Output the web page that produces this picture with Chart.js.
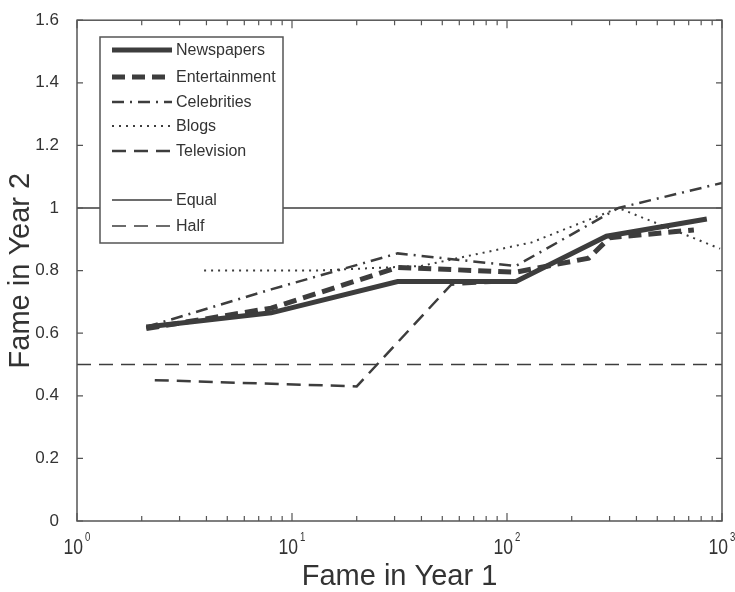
<!DOCTYPE html>
<html>
<head>
<meta charset="utf-8">
<script src="https://cdn.jsdelivr.net/npm/chart.js@4.4.0/dist/chart.umd.min.js"></script>
<style>
  html, body { margin: 0; padding: 0; background: #fff; }
  #wrap { width: 735px; height: 592px; }
</style>
</head>
<body>
<div id="wrap"><canvas id="fame-chart"></canvas></div>
<script>
// values (x = fame in year 1, y = fame in year 2)
const newspapersX = [2.1, 8, 31, 110, 290, 850];
const newspapersY = [0.62, 0.665, 0.765, 0.765, 0.91, 0.965];

const entertainmentX = [2.1, 8, 31, 110, 240, 300, 740];
const entertainmentY = [0.615, 0.68, 0.81, 0.795, 0.84, 0.905, 0.93];

const celebritiesX = [2.1, 8, 31, 110, 330, 1000];
const celebritiesY = [0.62, 0.74, 0.855, 0.815, 1.0, 1.08];

const blogsX = [3.9, 13, 40, 130, 330, 980];
const blogsY = [0.80, 0.80, 0.815, 0.89, 1.0, 0.87];

const televisionX = [2.3, 20, 55, 110, 290, 850];
const televisionY = [0.45, 0.43, 0.755, 0.765, 0.91, 0.963];

const referenceX = [1, 1000];
const equalY = [1, 1];
const halfY = [0.5, 0.5];

const xMajorTicks = [1, 10, 100, 1000];
const xTickExponents = ['0', '1', '2', '3'];
const yTicks = [0, 0.2, 0.4, 0.6, 0.8, 1, 1.2, 1.4, 1.6];

const LINE = '#3d3d3d';
const AXIS = '#555555';
const TEXT = '#333333';
const FONT = '"Liberation Sans", Arial, sans-serif';

function toPoints(xs, ys) {
    return xs.map((x, i) => ({ x: x, y: ys[i] }));
}

function makeSet(label, xs, ys, width, dash) {
    return {
        label: label,
        data: toPoints(xs, ys),
        borderColor: LINE,
        backgroundColor: LINE,
        borderWidth: width,
        borderDash: dash,
        pointRadius: 0,
        tension: 0,
        fill: false
    };
}

const datasets = [
    makeSet('Newspapers', newspapersX, newspapersY, 5, []),
    makeSet('Entertainment', entertainmentX, entertainmentY, 5, [13, 7]),
    makeSet('Celebrities', celebritiesX, celebritiesY, 2.5, [12, 6, 2, 6]),
    makeSet('Blogs', blogsX, blogsY, 2, [2, 5]),
    makeSet('Television', televisionX, televisionY, 2.5, [14, 8]),
    makeSet('Equal', referenceX, equalY, 1.5, []),
    makeSet('Half', referenceX, halfY, 1.5, [14, 8])
];

// frame, inward ticks, superscript x labels and the boxed legend
const matlabLook = {
    id: 'matlabLook',
    afterDatasetsDraw(chart) {
        const ctx = chart.ctx;
        const area = chart.chartArea;
        const xs = chart.scales.x;
        const ys = chart.scales.y;
        ctx.save();

        // legend box
        const box = { left: 100, top: 37, right: 283, bottom: 243 };
        const rows = [50, 77, 102, 126, 151, 200, 226];
        ctx.fillStyle = '#fff';
        ctx.fillRect(box.left, box.top, box.right - box.left, box.bottom - box.top);
        ctx.strokeStyle = AXIS;
        ctx.lineWidth = 1.5;
        ctx.setLineDash([]);
        ctx.strokeRect(box.left, box.top, box.right - box.left, box.bottom - box.top);
        ctx.font = '16px ' + FONT;
        ctx.textBaseline = 'middle';
        ctx.textAlign = 'left';
        chart.data.datasets.forEach((ds, i) => {
            const y = rows[i];
            ctx.strokeStyle = ds.borderColor;
            ctx.lineWidth = ds.borderWidth;
            ctx.setLineDash(ds.borderDash);
            ctx.beginPath();
            ctx.moveTo(112, y);
            ctx.lineTo(172, y);
            ctx.stroke();
            ctx.fillStyle = TEXT;
            ctx.fillText(ds.label, 176, y + 1);
        });

        // axes frame
        ctx.setLineDash([]);
        ctx.strokeStyle = AXIS;
        ctx.lineWidth = 1.5;
        ctx.strokeRect(area.left, area.top, area.right - area.left, area.bottom - area.top);

        // y ticks on both sides
        ctx.lineWidth = 1.2;
        ctx.beginPath();
        yTicks.forEach(v => {
            const py = ys.getPixelForValue(v);
            ctx.moveTo(area.left, py); ctx.lineTo(area.left + 6, py);
            ctx.moveTo(area.right, py); ctx.lineTo(area.right - 6, py);
        });
        // log ticks on bottom and top
        for (let d = 0; d < xMajorTicks.length; d++) {
            const base = xMajorTicks[d];
            const px = xs.getPixelForValue(base);
            ctx.moveTo(px, area.bottom); ctx.lineTo(px, area.bottom - 8);
            ctx.moveTo(px, area.top); ctx.lineTo(px, area.top + 8);
            if (d === xMajorTicks.length - 1) break;
            for (let m = 2; m <= 9; m++) {
                const mx = xs.getPixelForValue(base * m);
                ctx.moveTo(mx, area.bottom); ctx.lineTo(mx, area.bottom - 5);
                ctx.moveTo(mx, area.top); ctx.lineTo(mx, area.top + 5);
            }
        }
        ctx.stroke();

        // x tick labels: 10 with a raised exponent, slightly condensed
        ctx.fillStyle = TEXT;
        ctx.textBaseline = 'alphabetic';
        const squeeze = 0.8;
        xMajorTicks.forEach((v, i) => {
            const px = xs.getPixelForValue(v);
            ctx.font = '22px ' + FONT;
            const wBase = ctx.measureText('10').width * squeeze;
            ctx.font = '12px ' + FONT;
            const wExp = ctx.measureText(xTickExponents[i]).width * squeeze;
            const start = px - (wBase + wExp + 2) / 2;
            ctx.save();
            ctx.translate(start, 554);
            ctx.scale(squeeze, 1);
            ctx.font = '22px ' + FONT;
            ctx.fillText('10', 0, 0);
            ctx.font = '12px ' + FONT;
            ctx.fillText(xTickExponents[i], (wBase + 2) / squeeze, -13);
            ctx.restore();
        });
        ctx.restore();
    }
};

new Chart(document.getElementById('fame-chart'), {
    type: 'line',
    data: { datasets: datasets },
    options: {
        responsive: true,
        maintainAspectRatio: false,
        animation: false,
        layout: { padding: { top: 17, right: 13, left: 0, bottom: 0 } },
        plugins: {
            legend: { display: false },
            tooltip: { enabled: false }
        },
        scales: {
            x: {
                type: 'logarithmic',
                min: 1,
                max: 1000,
                grid: { display: false },
                border: { display: false },
                ticks: { display: false },
                title: {
                    display: true,
                    text: 'Fame in Year 1',
                    color: TEXT,
                    font: { family: FONT, size: 29, lineHeight: 1 },
                    padding: { top: 0, bottom: 1 }
                },
                afterFit(scale) { scale.height = 71; }
            },
            y: {
                min: 0,
                max: 1.6,
                grid: { display: false },
                border: { display: false },
                ticks: {
                    stepSize: 0.2,
                    color: TEXT,
                    padding: 10,
                    font: { family: FONT, size: 17 },
                    callback: v => String(+v.toFixed(1))
                },
                title: {
                    display: true,
                    text: 'Fame in Year 2',
                    color: TEXT,
                    font: { family: FONT, size: 29, lineHeight: 1 },
                    padding: { top: 6, bottom: 0 }
                },
                afterFit(scale) { scale.width = 77; }
            }
        }
    },
    plugins: [matlabLook]
});
</script>
</body>
</html>
